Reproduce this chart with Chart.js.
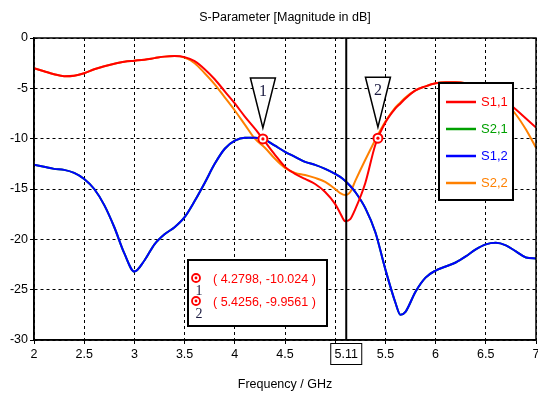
<!DOCTYPE html>
<html>
<head>
<meta charset="utf-8">
<script src="https://cdn.jsdelivr.net/npm/chart.js"></script>
<style>
  html, body { margin: 0; padding: 0; background: #fff; }
  #wrap { width: 538px; height: 399px; }
</style>
</head>
<body>
<div id="wrap"><canvas id="sparam" width="538" height="399"></canvas></div>
<script>
// frequency points (GHz)
var freq = [2.0, 2.1, 2.2, 2.3, 2.4, 2.5, 2.6, 2.7, 2.8, 2.9,
            3.0, 3.1, 3.2, 3.3, 3.4, 3.5, 3.6, 3.7, 3.8, 3.9,
            4.0, 4.1, 4.2, 4.3, 4.4, 4.5, 4.6, 4.7, 4.8, 4.9,
            5.0, 5.05, 5.1, 5.15, 5.2, 5.3, 5.4, 5.5, 5.6, 5.65, 5.7, 5.8, 5.9,
            6.0, 6.1, 6.2, 6.3, 6.4, 6.5, 6.6, 6.7, 6.8, 6.9, 7.0];

// magnitudes in dB
var s11 = [-3.0, -3.3, -3.6, -3.8, -3.75, -3.5, -3.1, -2.8, -2.55, -2.35,
           -2.25, -2.15, -2.0, -1.85, -1.8, -1.9, -2.3, -3.1, -4.1, -5.3,
           -6.5, -7.8, -9.0, -10.3, -11.6, -12.8, -13.5, -14.0, -14.5, -15.3,
           -16.5, -17.4, -18.2, -18.0, -17.0, -14.4, -10.6, -8.4, -7.0, -6.5, -6.0, -5.2, -4.8,
           -4.5, -4.4, -4.4, -4.5, -4.8, -5.1, -5.6, -6.3, -7.1, -8.0, -8.9];
var s21 = [-12.6, -12.8, -13.0, -13.1, -13.4, -14.0, -15.0, -16.6, -18.8, -21.4,
           -23.2, -22.1, -20.5, -19.5, -18.8, -17.8, -16.2, -14.4, -12.5, -11.0,
           -10.2, -9.9, -9.9, -10.1, -10.7, -11.3, -11.8, -12.3, -12.6, -13.0,
           -13.5, -13.8, -14.2, -14.7, -15.3, -16.9, -19.3, -23.0, -26.3, -27.5, -27.2, -25.2, -23.8,
           -23.1, -22.7, -22.3, -21.7, -21.0, -20.5, -20.35, -20.6, -21.2, -21.8, -21.9];
var s12 = [-12.6, -12.8, -13.0, -13.1, -13.4, -14.0, -15.0, -16.6, -18.8, -21.4,
           -23.2, -22.1, -20.5, -19.5, -18.8, -17.8, -16.2, -14.4, -12.5, -11.0,
           -10.2, -9.9, -9.9, -10.1, -10.7, -11.3, -11.8, -12.3, -12.6, -13.0,
           -13.5, -13.8, -14.2, -14.7, -15.3, -16.9, -19.3, -23.0, -26.3, -27.5, -27.2, -25.2, -23.8,
           -23.1, -22.7, -22.3, -21.7, -21.0, -20.5, -20.35, -20.6, -21.2, -21.8, -21.9];
var s22 = [-3.0, -3.3, -3.6, -3.8, -3.75, -3.5, -3.1, -2.8, -2.55, -2.35,
           -2.25, -2.15, -2.0, -1.85, -1.8, -1.95, -2.5, -3.5, -4.6, -5.9,
           -7.2, -8.6, -10.0, -10.9, -12.0, -12.9, -13.4, -13.6, -13.9, -14.3,
           -15.0, -15.4, -15.6, -15.3, -14.2, -12.1, -10.1, -8.3, -6.9, -6.4, -5.9, -5.2, -4.8,
           -4.5, -4.4, -4.4, -4.5, -4.8, -5.1, -5.6, -6.5, -7.6, -9.1, -10.9];

var seriesNames = ['S1,1', 'S2,1', 'S1,2', 'S2,2'];
var seriesColors = ['#ff0000', '#00a000', '#0000ff', '#ff8000'];

var markerF = [4.2798, 5.4256];
var markerDb = [-10.024, -9.9561];
var markerNames = ['1', '2'];
var cursorF = 5.11;

var xTicks = [2, 2.5, 3, 3.5, 4, 4.5, 5, 5.5, 6, 6.5, 7];
var yTicks = [0, -5, -10, -15, -20, -25, -30];

var FONT = "'Liberation Sans', Arial, sans-serif";
var SERIF = "'Liberation Serif', 'DejaVu Serif', serif";

function pts(vals) {
    return freq.map(function (f, i) { return {x: f, y: vals[i]}; });
}

var allSeries = [s11, s21, s12, s22];
var drawOrder = [0, 3, 1, 2]; // red on top, blue hides green

var datasets = seriesNames.map(function (name, i) {
    return {
        label: name,
        data: pts(allSeries[i]),
        borderColor: seriesColors[i],
        backgroundColor: seriesColors[i],
        borderWidth: 2,
        pointRadius: 0,
        cubicInterpolationMode: 'monotone',
        fill: false,
        order: drawOrder[i]
    };
});

datasets.push({
    label: 'markers',
    data: markerF.map(function (f, i) { return {x: f, y: markerDb[i]}; }),
    showLine: false,
    pointRadius: 4.5,
    pointBorderWidth: 2,
    pointBorderColor: '#ff0000',
    pointBackgroundColor: '#ffffff',
    order: -1
});

// stretch the plot to the right edge like the original (layout keeps a label margin otherwise)
var fixArea = {
    id: 'fixArea',
    afterLayout: function (chart) {
        var a = chart.chartArea;
        var xs = chart.scales.x;
        var right = chart.width - 2;
        a.right = right;
        a.width = right - a.left;
        xs.right = right;
        xs.width = right - xs.left;
        xs.configure();
    }
};

var decor = {
    id: 'decor',
    beforeDraw: function (chart) {
        var ctx = chart.ctx;
        ctx.save();
        ctx.fillStyle = '#fff';
        ctx.fillRect(0, 0, chart.width, chart.height);
        ctx.restore();
    },
    afterDatasetsDraw: function (chart) {
        var ctx = chart.ctx;
        var a = chart.chartArea;
        var xs = chart.scales.x;
        ctx.save();

        // cursor line
        var cx = xs.getPixelForValue(cursorF);
        ctx.strokeStyle = '#000';
        ctx.lineWidth = 2;
        ctx.beginPath();
        ctx.moveTo(cx, a.top);
        ctx.lineTo(cx, a.bottom);
        ctx.stroke();

        // frame
        ctx.lineWidth = 1.5;
        ctx.strokeRect(a.left, a.top, a.right - a.left, a.bottom - a.top);

        // title
        ctx.fillStyle = '#000';
        ctx.font = '12.5px ' + FONT;
        ctx.textAlign = 'center';
        ctx.textBaseline = 'middle';
        ctx.fillText('S-Parameter [Magnitude in dB]', (a.left + a.right) / 2, 18);

        // cursor value box under the axis
        ctx.fillStyle = '#fff';
        ctx.fillRect(cx - 15, a.bottom + 4, 30, 21);
        ctx.lineWidth = 1;
        ctx.strokeRect(cx - 15.5, a.bottom + 3.5, 31, 21);
        ctx.fillStyle = '#000';
        ctx.fillText(String(cursorF), cx, a.bottom + 14.5);

        // marker flags
        var meta = chart.getDatasetMeta(4);
        meta.data.forEach(function (p, i) {
            ctx.fillStyle = '#ff0000';
            ctx.beginPath();
            ctx.arc(p.x, p.y, 1.6, 0, Math.PI * 2);
            ctx.fill();

            ctx.beginPath();
            ctx.moveTo(p.x - 12.5, p.y - 61);
            ctx.lineTo(p.x + 12.5, p.y - 61);
            ctx.lineTo(p.x, p.y - 11);
            ctx.closePath();
            ctx.fillStyle = '#fff';
            ctx.fill();
            ctx.strokeStyle = '#000';
            ctx.lineWidth = 1.5;
            ctx.stroke();
            ctx.fillStyle = '#1a1a40';
            ctx.font = '16px ' + SERIF;
            ctx.fillText(markerNames[i], p.x, p.y - 47);
        });

        // marker readout box
        ctx.fillStyle = '#fff';
        ctx.fillRect(188, 260, 139, 66);
        ctx.strokeStyle = '#000';
        ctx.lineWidth = 2;
        ctx.strokeRect(188, 260, 139, 66);
        markerF.forEach(function (f, i) {
            var y = 280 + i * 23;
            ctx.strokeStyle = '#ff0000';
            ctx.lineWidth = 1.8;
            ctx.beginPath();
            ctx.arc(196, y - 2, 4, 0, Math.PI * 2);
            ctx.stroke();
            ctx.fillStyle = '#ff0000';
            ctx.beginPath();
            ctx.arc(196, y - 2, 1.4, 0, Math.PI * 2);
            ctx.fill();
            ctx.fillStyle = '#1a1a40';
            ctx.font = '14px ' + SERIF;
            ctx.textAlign = 'center';
            ctx.fillText(markerNames[i], 199, y + 11);
            ctx.fillStyle = '#ff0000';
            ctx.font = '12.5px ' + FONT;
            ctx.textAlign = 'left';
            ctx.fillText('( ' + f + ', ' + markerDb[i] + ' )', 213, y);
        });

        // legend
        ctx.fillStyle = '#fff';
        ctx.fillRect(439, 83, 74, 117);
        ctx.strokeStyle = '#000';
        ctx.lineWidth = 2;
        ctx.strokeRect(439, 83, 74, 117);
        seriesNames.forEach(function (name, i) {
            var y = 102 + i * 27;
            ctx.strokeStyle = seriesColors[i];
            ctx.lineWidth = 2.5;
            ctx.beginPath();
            ctx.moveTo(446, y);
            ctx.lineTo(476, y);
            ctx.stroke();
            ctx.fillStyle = seriesColors[i];
            ctx.font = '13px ' + FONT;
            ctx.textAlign = 'left';
            ctx.fillText(name, 481, y);
        });

        ctx.restore();
    }
};

new Chart(document.getElementById('sparam'), {
    type: 'line',
    data: { datasets: datasets },
    plugins: [fixArea, decor],
    options: {
        responsive: false,
        animation: false,
        layout: { padding: { top: 38, right: 0, left: 0, bottom: 0 } },
        plugins: {
            legend: { display: false },
            tooltip: { enabled: false },
            title: { display: false }
        },
        scales: {
            x: {
                type: 'linear',
                min: 2,
                max: 7,
                afterBuildTicks: function (scale) {
                    scale.ticks = xTicks.map(function (v) { return {value: v}; });
                },
                afterFit: function (scale) { scale.height = 59; },
                ticks: {
                    autoSkip: false,
                    maxRotation: 0,
                    padding: 3,
                    color: '#000',
                    font: { family: FONT, size: 12.5 },
                    callback: function (v) { return v === 5 ? '' : String(v); }
                },
                grid: { color: '#000', lineWidth: 1, tickLength: 4 },
                border: { display: true, color: '#000', width: 1.5, dash: [3, 3] },
                title: {
                    display: true,
                    text: 'Frequency / GHz',
                    color: '#000',
                    font: { family: FONT, size: 12.5 },
                    padding: { top: 0, bottom: 7 }
                }
            },
            y: {
                type: 'linear',
                min: -30,
                max: 0,
                afterBuildTicks: function (scale) {
                    scale.ticks = yTicks.map(function (v) { return {value: v}; });
                },
                afterFit: function (scale) { scale.width = 34; },
                ticks: {
                    padding: 2,
                    color: '#000',
                    font: { family: FONT, size: 12.5 }
                },
                grid: { color: '#000', lineWidth: 1, tickLength: 4 },
                border: { display: true, color: '#000', width: 1.5, dash: [3, 3] }
            }
        }
    }
});
</script>
</body>
</html>
